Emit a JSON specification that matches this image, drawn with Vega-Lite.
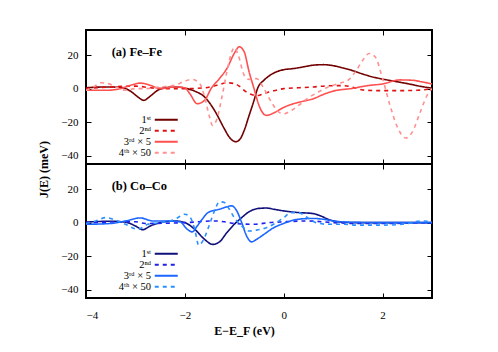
{
  "$schema": "https://vega.github.io/schema/vega-lite/v6.json",
  "padding": {"left": 36, "top": 28, "right": 5, "bottom": 5},
  "background": "white",
  "bounds": "flush",
  "config": {
    "font": "Liberation Serif",
    "view": {"stroke": "black", "strokeWidth": 2},
    "axis": {"grid": false, "domain": false, "tickColor": "black", "tickSize": -5, "tickWidth": 1, "labelFont": "Liberation Serif", "labelFontSize": 11, "labelColor": "black", "titleFont": "Liberation Serif", "titleFontSize": 12, "titleColor": "black", "titleFontWeight": "bold"},
    "legend": {"orient": "none", "legendX": 75, "legendY": 84.5, "padding": 0, "title": null, "symbolType": "M-2.875,0L2.875,0", "symbolSize": 64, "symbolStrokeWidth": 2, "symbolFillColor": "transparent", "labelAlign": "right", "labelOffset": -20.5, "labelFont": "Liberation Serif", "labelFontSize": 10.5, "labelColor": "black", "rowPadding": 0}
  },
  "datasets": {
    "fe": [
      {"s":"1st","E":-4,"J":0.5},{"s":"1st","E":-3.6,"J":1},{"s":"1st","E":-3.3,"J":0.8},{"s":"1st","E":-3.1,"J":-1.5},{"s":"1st","E":-2.95,"J":-5},{"s":"1st","E":-2.83,"J":-7},{"s":"1st","E":-2.7,"J":-4.5},{"s":"1st","E":-2.55,"J":-1},{"s":"1st","E":-2.4,"J":0.5},{"s":"1st","E":-2.2,"J":1},{"s":"1st","E":-2.0,"J":0.3},{"s":"1st","E":-1.8,"J":-1.5},{"s":"1st","E":-1.6,"J":-5},{"s":"1st","E":-1.4,"J":-13},{"s":"1st","E":-1.2,"J":-24},{"s":"1st","E":-1.1,"J":-29},{"s":"1st","E":-0.97,"J":-31.7},{"s":"1st","E":-0.88,"J":-30},{"s":"1st","E":-0.8,"J":-25},{"s":"1st","E":-0.7,"J":-16},{"s":"1st","E":-0.6,"J":-7},{"s":"1st","E":-0.53,"J":0},{"s":"1st","E":-0.4,"J":5},{"s":"1st","E":-0.3,"J":7.5},{"s":"1st","E":-0.15,"J":10},{"s":"1st","E":0,"J":11.3},{"s":"1st","E":0.2,"J":12},{"s":"1st","E":0.4,"J":13},{"s":"1st","E":0.6,"J":14},{"s":"1st","E":0.8,"J":14.3},{"s":"1st","E":1.0,"J":13.7},{"s":"1st","E":1.2,"J":12.3},{"s":"1st","E":1.4,"J":10.7},{"s":"1st","E":1.6,"J":8.7},{"s":"1st","E":1.8,"J":7},{"s":"1st","E":2.0,"J":5.7},{"s":"1st","E":2.2,"J":4.6},{"s":"1st","E":2.5,"J":3},{"s":"1st","E":2.8,"J":1.2},{"s":"1st","E":3.0,"J":0.3},
      {"s":"2nd","E":-4,"J":0},{"s":"2nd","E":-3.5,"J":1},{"s":"2nd","E":-3,"J":1.5},{"s":"2nd","E":-2.7,"J":0.5},{"s":"2nd","E":-2.4,"J":0},{"s":"2nd","E":-2,"J":0},{"s":"2nd","E":-1.6,"J":0.5},{"s":"2nd","E":-1.35,"J":2},{"s":"2nd","E":-1.15,"J":3.5},{"s":"2nd","E":-1.0,"J":3},{"s":"2nd","E":-0.9,"J":1.5},{"s":"2nd","E":-0.78,"J":-1.5},{"s":"2nd","E":-0.65,"J":-3.5},{"s":"2nd","E":-0.55,"J":-4.2},{"s":"2nd","E":-0.45,"J":-3.5},{"s":"2nd","E":-0.3,"J":-2},{"s":"2nd","E":-0.15,"J":-1},{"s":"2nd","E":0,"J":0},{"s":"2nd","E":0.3,"J":0.5},{"s":"2nd","E":0.6,"J":1},{"s":"2nd","E":0.9,"J":1.7},{"s":"2nd","E":1.2,"J":1.8},{"s":"2nd","E":1.4,"J":0.8},{"s":"2nd","E":1.6,"J":-0.8},{"s":"2nd","E":1.9,"J":-1.2},{"s":"2nd","E":2.3,"J":-1.2},{"s":"2nd","E":2.7,"J":-1},{"s":"2nd","E":3.0,"J":0},
      {"s":"3rd","E":-4,"J":-1},{"s":"3rd","E":-3.6,"J":-1},{"s":"3rd","E":-3.3,"J":0},{"s":"3rd","E":-3.1,"J":2},{"s":"3rd","E":-2.9,"J":3.3},{"s":"3rd","E":-2.7,"J":2},{"s":"3rd","E":-2.5,"J":0},{"s":"3rd","E":-2.2,"J":1},{"s":"3rd","E":-2.0,"J":0.5},{"s":"3rd","E":-1.9,"J":-3},{"s":"3rd","E":-1.75,"J":-9},{"s":"3rd","E":-1.6,"J":-7},{"s":"3rd","E":-1.47,"J":0},{"s":"3rd","E":-1.3,"J":6},{"s":"3rd","E":-1.15,"J":12},{"s":"3rd","E":-1.0,"J":21},{"s":"3rd","E":-0.9,"J":25},{"s":"3rd","E":-0.8,"J":22},{"s":"3rd","E":-0.7,"J":10},{"s":"3rd","E":-0.6,"J":0},{"s":"3rd","E":-0.5,"J":-10},{"s":"3rd","E":-0.35,"J":-16},{"s":"3rd","E":-0.2,"J":-14.5},{"s":"3rd","E":0,"J":-11.2},{"s":"3rd","E":0.2,"J":-9},{"s":"3rd","E":0.4,"J":-7.5},{"s":"3rd","E":0.6,"J":-6},{"s":"3rd","E":0.8,"J":-3.5},{"s":"3rd","E":1.0,"J":-1.5},{"s":"3rd","E":1.4,"J":0.2},{"s":"3rd","E":1.7,"J":1.8},{"s":"3rd","E":2.0,"J":2.8},{"s":"3rd","E":2.35,"J":5.2},{"s":"3rd","E":2.6,"J":5},{"s":"3rd","E":2.8,"J":4},{"s":"3rd","E":3.0,"J":2.8},
      {"s":"4th","E":-4,"J":-1},{"s":"4th","E":-3.85,"J":1},{"s":"4th","E":-3.7,"J":3.5},{"s":"4th","E":-3.55,"J":3},{"s":"4th","E":-3.4,"J":1},{"s":"4th","E":-3.2,"J":-1},{"s":"4th","E":-3.0,"J":0},{"s":"4th","E":-2.8,"J":0},{"s":"4th","E":-2.5,"J":1},{"s":"4th","E":-2.2,"J":2},{"s":"4th","E":-2.0,"J":4.5},{"s":"4th","E":-1.85,"J":5.5},{"s":"4th","E":-1.7,"J":3},{"s":"4th","E":-1.6,"J":-5},{"s":"4th","E":-1.5,"J":-17},{"s":"4th","E":-1.44,"J":-22},{"s":"4th","E":-1.35,"J":-18},{"s":"4th","E":-1.25,"J":-5},{"s":"4th","E":-1.15,"J":10},{"s":"4th","E":-1.05,"J":22},{"s":"4th","E":-1.0,"J":24.5},{"s":"4th","E":-0.92,"J":20},{"s":"4th","E":-0.8,"J":8},{"s":"4th","E":-0.7,"J":5.5},{"s":"4th","E":-0.55,"J":6},{"s":"4th","E":-0.4,"J":0},{"s":"4th","E":-0.25,"J":-8},{"s":"4th","E":-0.1,"J":-14},{"s":"4th","E":0,"J":-15},{"s":"4th","E":0.1,"J":-14},{"s":"4th","E":0.3,"J":-10},{"s":"4th","E":0.5,"J":-5.5},{"s":"4th","E":0.7,"J":-2},{"s":"4th","E":0.9,"J":1},{"s":"4th","E":1.1,"J":3},{"s":"4th","E":1.3,"J":5},{"s":"4th","E":1.45,"J":10},{"s":"4th","E":1.6,"J":17},{"s":"4th","E":1.73,"J":21},{"s":"4th","E":1.85,"J":19},{"s":"4th","E":2.0,"J":6},{"s":"4th","E":2.15,"J":-10},{"s":"4th","E":2.3,"J":-23},{"s":"4th","E":2.47,"J":-29.5},{"s":"4th","E":2.6,"J":-26},{"s":"4th","E":2.75,"J":-15},{"s":"4th","E":2.9,"J":-4},{"s":"4th","E":3.0,"J":0}
    ],
    "co": [
      {"s":"1st","E":-4,"J":0.3},{"s":"1st","E":-3.5,"J":0.8},{"s":"1st","E":-3.2,"J":0.3},{"s":"1st","E":-3.0,"J":-2},{"s":"1st","E":-2.85,"J":-4.2},{"s":"1st","E":-2.7,"J":-2},{"s":"1st","E":-2.5,"J":0},{"s":"1st","E":-2.2,"J":1},{"s":"1st","E":-2.0,"J":0},{"s":"1st","E":-1.8,"J":-4},{"s":"1st","E":-1.6,"J":-10},{"s":"1st","E":-1.44,"J":-13},{"s":"1st","E":-1.3,"J":-11.5},{"s":"1st","E":-1.15,"J":-6},{"s":"1st","E":-1.0,"J":-1},{"s":"1st","E":-0.85,"J":3},{"s":"1st","E":-0.7,"J":6.5},{"s":"1st","E":-0.5,"J":8.5},{"s":"1st","E":-0.35,"J":8.7},{"s":"1st","E":-0.2,"J":8},{"s":"1st","E":0,"J":7},{"s":"1st","E":0.3,"J":6},{"s":"1st","E":0.57,"J":5.5},{"s":"1st","E":0.75,"J":4},{"s":"1st","E":0.9,"J":2},{"s":"1st","E":1.1,"J":0.5},{"s":"1st","E":1.4,"J":0},{"s":"1st","E":2,"J":0},{"s":"1st","E":3,"J":0},
      {"s":"2nd","E":-4,"J":0},{"s":"2nd","E":-3,"J":0.5},{"s":"2nd","E":-2.8,"J":-0.5},{"s":"2nd","E":-2,"J":0},{"s":"2nd","E":-1.4,"J":1},{"s":"2nd","E":-1.2,"J":0.5},{"s":"2nd","E":-1,"J":-0.5},{"s":"2nd","E":-0.6,"J":-1},{"s":"2nd","E":-0.3,"J":0},{"s":"2nd","E":0,"J":0.5},{"s":"2nd","E":0.5,"J":1},{"s":"2nd","E":1,"J":0},{"s":"2nd","E":1.5,"J":-0.5},{"s":"2nd","E":2,"J":-0.5},{"s":"2nd","E":3,"J":0},
      {"s":"3rd","E":-4,"J":-1},{"s":"3rd","E":-3.5,"J":-0.5},{"s":"3rd","E":-3.2,"J":1},{"s":"3rd","E":-2.9,"J":2.8},{"s":"3rd","E":-2.65,"J":1},{"s":"3rd","E":-2.4,"J":1},{"s":"3rd","E":-2.1,"J":0.5},{"s":"3rd","E":-1.95,"J":-4},{"s":"3rd","E":-1.85,"J":-5.5},{"s":"3rd","E":-1.75,"J":-2},{"s":"3rd","E":-1.65,"J":2},{"s":"3rd","E":-1.53,"J":6},{"s":"3rd","E":-1.3,"J":8},{"s":"3rd","E":-1.05,"J":10},{"s":"3rd","E":-0.95,"J":7},{"s":"3rd","E":-0.85,"J":0},{"s":"3rd","E":-0.75,"J":-8},{"s":"3rd","E":-0.65,"J":-11.5},{"s":"3rd","E":-0.55,"J":-10},{"s":"3rd","E":-0.4,"J":-7},{"s":"3rd","E":-0.2,"J":-3},{"s":"3rd","E":0,"J":-0.5},{"s":"3rd","E":0.2,"J":1.5},{"s":"3rd","E":0.4,"J":2.3},{"s":"3rd","E":0.6,"J":2.5},{"s":"3rd","E":0.8,"J":2},{"s":"3rd","E":1.0,"J":1},{"s":"3rd","E":1.3,"J":0.3},{"s":"3rd","E":2,"J":0},{"s":"3rd","E":3,"J":0},
      {"s":"4th","E":-4,"J":-0.5},{"s":"4th","E":-3.8,"J":1},{"s":"4th","E":-3.6,"J":3},{"s":"4th","E":-3.4,"J":1.5},{"s":"4th","E":-3.2,"J":-1},{"s":"4th","E":-2.95,"J":-4},{"s":"4th","E":-2.75,"J":-1},{"s":"4th","E":-2.5,"J":0},{"s":"4th","E":-2.2,"J":2},{"s":"4th","E":-2.0,"J":5},{"s":"4th","E":-1.9,"J":3.5},{"s":"4th","E":-1.8,"J":-4},{"s":"4th","E":-1.72,"J":-13.5},{"s":"4th","E":-1.62,"J":-10},{"s":"4th","E":-1.5,"J":-1},{"s":"4th","E":-1.4,"J":7},{"s":"4th","E":-1.3,"J":12.5},{"s":"4th","E":-1.2,"J":12},{"s":"4th","E":-1.1,"J":8},{"s":"4th","E":-1.0,"J":3},{"s":"4th","E":-0.85,"J":-2},{"s":"4th","E":-0.7,"J":-5},{"s":"4th","E":-0.55,"J":-4.5},{"s":"4th","E":-0.35,"J":-3},{"s":"4th","E":-0.15,"J":0},{"s":"4th","E":0,"J":3},{"s":"4th","E":0.15,"J":6},{"s":"4th","E":0.3,"J":6},{"s":"4th","E":0.45,"J":3.5},{"s":"4th","E":0.65,"J":0},{"s":"4th","E":0.9,"J":-1},{"s":"4th","E":1.2,"J":-1},{"s":"4th","E":1.5,"J":-1.5},{"s":"4th","E":2.0,"J":-1.5},{"s":"4th","E":2.4,"J":-1},{"s":"4th","E":2.8,"J":1},{"s":"4th","E":3.0,"J":0.5}
    ]
  },
  "spacing": 0,
  "resolve": {"scale": {"color": "independent", "strokeDash": "independent"}, "legend": {"color": "independent", "strokeDash": "independent"}},
  "vconcat": [
    {
      "width": 346, "height": 134,
      "resolve": {"axis": {"x": "independent", "y": "independent"}},
      "layer": [
        {
          "data": {"name": "fe"},
          "mark": {"type": "line", "strokeWidth": 1.6, "interpolate": "monotone", "clip": true},
          "encoding": {
            "x": {"field": "E", "type": "quantitative", "scale": {"domain": [-4, 3], "nice": false}, "axis": {"values": [-4, -2, 0, 2], "labels": false, "title": null}},
            "y": {"field": "J", "type": "quantitative", "scale": {"domain": [-45, 35], "nice": false, "zero": false}, "axis": {"values": [-40, -20, 0, 20], "labelPadding": 13, "title": "J(E) (meV)", "titleX": -43, "titleY": 139, "titleAngle": -90, "titleAlign": "center", "titleBaseline": "middle"}},
            "color": {"field": "s", "type": "nominal", "scale": {"domain": ["1st", "2nd", "3rd", "4th"], "range": ["#720000", "#e01010", "#ff5050", "#ff9090"]}, "legend": {"labelExpr": "datum.label == '1st' ? '1ˢᵗ' : datum.label == '2nd' ? '2ⁿᵈ' : datum.label == '3rd' ? '3ʳᵈ × 5' : '4ᵗʰ × 50'"}},
            "strokeDash": {"field": "s", "type": "nominal", "scale": {"domain": ["1st", "2nd", "3rd", "4th"], "range": [[1, 0], [4, 4], [1, 0], [4, 4]]}, "legend": {"labelExpr": "datum.label == '1st' ? '1ˢᵗ' : datum.label == '2nd' ? '2ⁿᵈ' : datum.label == '3rd' ? '3ʳᵈ × 5' : '4ᵗʰ × 50'"}},
            "order": {"field": "E", "type": "quantitative"}
          }
        },
        {
          "mark": {"type": "rule", "color": "black", "strokeWidth": 1},
          "encoding": {"y": {"datum": 0, "axis": {"orient": "right", "values": [-40, -20, 0, 20], "labels": false, "title": null}}}
        },
        {
          "mark": {"type": "rule", "color": "black", "strokeWidth": 1, "strokeDash": [2, 2]},
          "encoding": {"x": {"datum": 0, "axis": {"orient": "top", "values": [-4, -2, 0, 2], "labels": false, "title": null}}}
        },
        {
          "data": {"values": [{"label": "(a) Fe–Fe"}]},
          "mark": {"type": "text", "align": "left", "baseline": "alphabetic", "fontWeight": "bold", "fontSize": 12.5, "font": "Liberation Serif", "color": "black"},
          "encoding": {"text": {"field": "label", "type": "nominal"}, "x": {"datum": -3.48, "axis": null}, "y": {"datum": 19.3, "axis": null}}
        }
      ]
    },
    {
      "width": 346, "height": 134,
      "resolve": {"axis": {"x": "independent", "y": "independent"}},
      "layer": [
        {
          "data": {"name": "co"},
          "mark": {"type": "line", "strokeWidth": 1.6, "interpolate": "monotone", "clip": true},
          "encoding": {
            "x": {"field": "E", "type": "quantitative", "scale": {"domain": [-4, 3], "nice": false}, "axis": {"values": [-4, -2, 0, 2], "labelPadding": 16, "title": "E−E_F (eV)", "titleX": 158, "titleY": 36, "titleAlign": "center", "titleBaseline": "alphabetic"}},
            "y": {"field": "J", "type": "quantitative", "scale": {"domain": [-45, 35], "nice": false, "zero": false}, "axis": {"values": [-40, -20, 0, 20], "labelPadding": 13, "title": null}},
            "color": {"field": "s", "type": "nominal", "scale": {"domain": ["1st", "2nd", "3rd", "4th"], "range": ["#10107a", "#2020f0", "#1a66ff", "#2b8fff"]}, "legend": {"labelExpr": "datum.label == '1st' ? '1ˢᵗ' : datum.label == '2nd' ? '2ⁿᵈ' : datum.label == '3rd' ? '3ʳᵈ × 5' : '4ᵗʰ × 50'"}},
            "strokeDash": {"field": "s", "type": "nominal", "scale": {"domain": ["1st", "2nd", "3rd", "4th"], "range": [[1, 0], [4, 4], [1, 0], [4, 4]]}, "legend": {"labelExpr": "datum.label == '1st' ? '1ˢᵗ' : datum.label == '2nd' ? '2ⁿᵈ' : datum.label == '3rd' ? '3ʳᵈ × 5' : '4ᵗʰ × 50'"}},
            "order": {"field": "E", "type": "quantitative"}
          }
        },
        {
          "mark": {"type": "rule", "color": "black", "strokeWidth": 1},
          "encoding": {"y": {"datum": 0, "axis": {"orient": "right", "values": [-40, -20, 0, 20], "labels": false, "title": null}}}
        },
        {
          "mark": {"type": "rule", "color": "black", "strokeWidth": 1, "strokeDash": [2, 2]},
          "encoding": {"x": {"datum": 0, "axis": {"orient": "top", "values": [-4, -2, 0, 2], "labels": false, "title": null}}}
        },
        {
          "data": {"values": [{"label": "(b) Co–Co"}]},
          "mark": {"type": "text", "align": "left", "baseline": "alphabetic", "fontWeight": "bold", "fontSize": 12.5, "font": "Liberation Serif", "color": "black"},
          "encoding": {"text": {"field": "label", "type": "nominal"}, "x": {"datum": -3.48, "axis": null}, "y": {"datum": 19.3, "axis": null}}
        }
      ]
    }
  ]
}
